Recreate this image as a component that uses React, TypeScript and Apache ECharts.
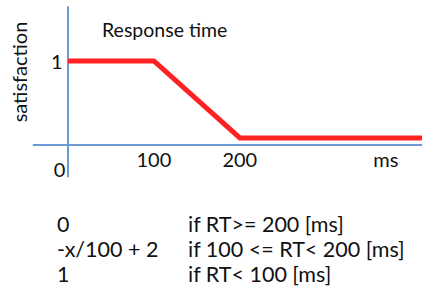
import React, { useEffect, useRef } from "react";
import * as echarts from "echarts";

const xValues = [0, 100, 200, 412];
const satisfaction = [1, 1, 0, 0];
const xTickValues = [0, 100, 200, 370];
const xTickLabels = ["0", "100", "200", "ms"];
const yTickValues = [1];
const yTickLabels = ["1"];
const chartTitle = "Response time";
const yAxisName = "satisfaction";
const formulaValues = ["0", "-x/100 + 2", "1"];
const formulaConditions = ["if RT>= 200 [ms]", "if 100 <= RT< 200 [ms]", "if RT< 100 [ms]"];

const FONT = "Lato, 'Open Sans', sans-serif";
const AXIS_BLUE = "#6b9bd2";
const RED = "#ff2222";

export default function App() {
  const ref = useRef<HTMLDivElement>(null);
  useEffect(() => {
    document.body.style.margin = "0";
    const chart = echarts.init(ref.current!, null, { renderer: "svg" });
    const rowY = [224, 249, 274];
    const graphics: any[] = [
      {
        type: "text",
        x: 19,
        y: 72,
        rotation: Math.PI / 2,
        style: {
          text: yAxisName,
          fontSize: 20,
          fontFamily: FONT,
          fill: "#111",
          textAlign: "center",
          textVerticalAlign: "middle",
        },
      },
    ];
    formulaValues.forEach((v, i) => {
      graphics.push({
        type: "text",
        x: 57,
        y: rowY[i],
        style: { text: v, fontSize: 21.5, fontFamily: FONT, fill: "#111", textVerticalAlign: "middle" },
      });
      graphics.push({
        type: "text",
        x: 188,
        y: rowY[i],
        style: {
          text: formulaConditions[i],
          fontSize: 21.5,
          fontFamily: FONT,
          fill: "#111",
          textVerticalAlign: "middle",
        },
      });
    });
    chart.setOption({
      animation: false,
      title: {
        text: chartTitle,
        left: 97,
        top: 14,
        textStyle: { fontSize: 19.5, fontWeight: "normal", fontFamily: FONT, color: "#111" },
      },
      grid: { left: 33.6, right: 0, top: 7, bottom: 293 - 176.5, containLabel: false },
      xAxis: {
        type: "value",
        min: -40,
        max: 412,
        axisLine: { onZero: true, onZeroAxisIndex: 1, lineStyle: { color: AXIS_BLUE, width: 2 } },
        axisTick: { show: false },
        splitLine: { show: false },
        axisLabel: {
          customValues: xTickValues,
          margin: -28,
          fontSize: 20,
          fontFamily: FONT,
          color: "#111",
          formatter: (v: number) => {
            const i = xTickValues.indexOf(v);
            const t = i >= 0 ? xTickLabels[i] : "";
            return v === 0 ? "{z|" + t + "}" : t;
          },
          rich: { z: { fontSize: 20, fontFamily: FONT, color: "#111", padding: [10, 17, 0, 0] } },
        },
      },
      yAxis: [
        {
          type: "value",
          min: -0.5,
          max: 1.7,
          axisLine: { show: true, onZero: true, lineStyle: { color: AXIS_BLUE, width: 2 } },
          axisTick: { show: false },
          splitLine: { show: false },
          axisLabel: {
            customValues: yTickValues,
            margin: -29,
            fontSize: 20,
            fontFamily: FONT,
            color: "#111",
            formatter: (v: number) => {
              const i = yTickValues.indexOf(v);
              return i >= 0 ? yTickLabels[i] : "";
            },
          },
        },
        {
          type: "value",
          min: -18.6,
          max: 81.4,
          show: false,
          axisLine: { show: false },
          splitLine: { show: false },
        },
      ],
      series: [
        {
          type: "line",
          yAxisIndex: 0,
          data: xValues.map((x, i) => [x, satisfaction[i]]),
          symbol: "none",
          lineStyle: { color: RED, width: 5, cap: "butt", join: "miter" },
          z: 5,
        },
      ],
      graphic: graphics,
    });
    return () => chart.dispose();
  }, []);
  return <div ref={ref} style={{ width: 422, height: 293 }} />;
}
